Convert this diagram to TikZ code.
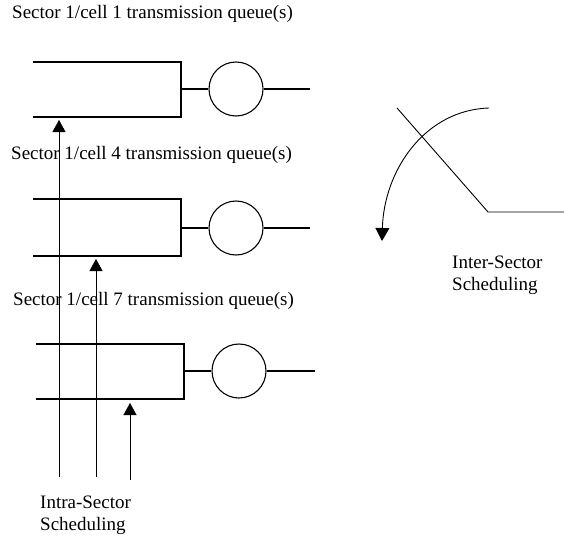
\documentclass[tikz,border=0pt]{standalone}
\usepackage{fontspec}
\setmainfont{Liberation Serif}
\usetikzlibrary{arrows.meta}
\begin{document}
\begin{tikzpicture}[x=1pt,y=-1pt,
  qline/.style={line width=1.1pt},
  server/.style={circle,draw,line width=1.1pt,minimum size=54pt,inner sep=0pt},
  lbl/.style={font=\fontsize{19}{22}\selectfont,inner sep=0pt,anchor=base west},
  sched/.style={line width=0.5pt,-{Triangle[length=12pt,width=13pt]}},
  captxt/.style={font=\fontsize{19}{22}\selectfont,inner sep=0pt,align=left,anchor=north west}]
\useasboundingbox (0,0) rectangle (564,535);
% labels
\node[lbl] (t1) at (12,19) {Sector 1/cell 1 transmission queue(s)};
\node[lbl] (t4) at (11,159) {Sector 1/cell 4 transmission queue(s)};
\node[lbl] (t7) at (13,305) {Sector 1/cell 7 transmission queue(s)};
% queue 1
\coordinate (q1tl) at (33,62); \coordinate (q1tr) at (181,62);
\coordinate (q1bl) at (33,117); \coordinate (q1br) at (181,117);
\coordinate (q1m) at (181,89);
\node[server] (s1) at (236,89) {};
\coordinate (o1) at (310,89);
\draw[qline] (q1tl) -- (q1tr) -- (q1br) -- (q1bl);
\draw[qline] (q1m) -- (s1.west) (s1.east) -- (o1);
% queue 2
\coordinate (q2tl) at (33,199); \coordinate (q2tr) at (181,199);
\coordinate (q2bl) at (33,256); \coordinate (q2br) at (181,256);
\coordinate (q2m) at (181,228);
\node[server] (s2) at (236,228) {};
\coordinate (o2) at (310,228);
\draw[qline] (q2tl) -- (q2tr) -- (q2br) -- (q2bl);
\draw[qline] (q2m) -- (s2.west) (s2.east) -- (o2);
% queue 3
\coordinate (q3tl) at (36,344); \coordinate (q3tr) at (184,344);
\coordinate (q3bl) at (36,399); \coordinate (q3br) at (184,399);
\coordinate (q3m) at (184,371);
\node[server] (s3) at (239,371) {};
\coordinate (o3) at (315,371);
\draw[qline] (q3tl) -- (q3tr) -- (q3br) -- (q3bl);
\draw[qline] (q3m) -- (s3.west) (s3.east) -- (o3);
% intra-sector arrows
\coordinate (a1s) at (59,477); \coordinate (a1e) at (59,120);
\coordinate (a2s) at (96,477); \coordinate (a2e) at (96,259);
\coordinate (a3s) at (130,480); \coordinate (a3e) at (130,403);
\draw[sched] (a1s) -- (a1e);
\draw[sched] (a2s) -- (a2e);
\draw[sched] (a3s) -- (a3e);
\node[captxt] (intra) at (40,496) {Intra-Sector\\Scheduling};
% inter-sector
\coordinate (x1) at (397,108); \coordinate (x2) at (488,212); \coordinate (x3) at (564,212);
\draw[line width=0.9pt] (x1) -- (x2) -- (x3);
\coordinate (c1) at (489,108); \coordinate (c2) at (382,241);
\draw[line width=0.9pt,-{Triangle[length=13pt,width=14pt]}] (c1) .. controls (425,110) and (384,170) .. (c2);
\node[captxt] (inter) at (452,256) {Inter-Sector\\Scheduling};
\end{tikzpicture}
\end{document}
